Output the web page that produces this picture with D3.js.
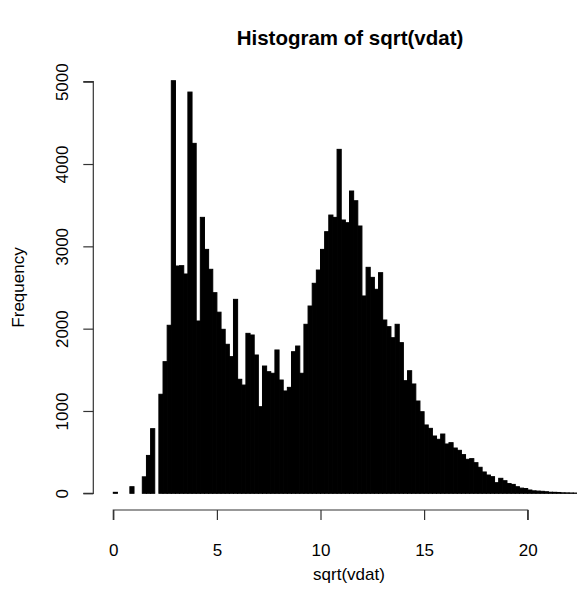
<!DOCTYPE html>
<html>
<head>
<meta charset="utf-8">
<script src="https://cdn.jsdelivr.net/npm/d3@7"></script>
<style>
  html, body { margin: 0; padding: 0; background: #fff; }
  svg { display: block; font-family: "Liberation Sans", Arial, Helvetica, sans-serif; }
</style>
</head>
<body>
<svg id="chart" width="577" height="596"></svg>
<script>
// ---- data ----
const title = "Histogram of sqrt(vdat)";
const xLabel = "sqrt(vdat)";
const yLabel = "Frequency";
const binWidth = 0.2;
const counts = [
  12, 0, 0, 0, 80, 0, 0, 200, 460, 785,
  0, 1203, 1599, 2041, 5012, 2761, 2765, 2664, 4874, 4251,
  2093, 3352, 2963, 2721, 2437, 2200, 1992, 1810, 1660, 2356,
  1385, 1315, 1943, 1923, 1680, 1052, 1546, 1477, 1458, 1741,
  1376, 1243, 1287, 1720, 1789, 1458, 2053, 2275, 2551, 2712,
  2963, 3178, 3380, 3352, 4178, 3320, 3287, 3672, 3554, 3247,
  2397, 2745, 2623, 2478, 2680, 2105, 2024, 1890, 2053, 1830,
  1368, 1489, 1328, 1121, 991, 830, 789, 696, 656, 720,
  599, 615, 550, 522, 470, 413, 421, 372, 316, 259,
  222, 202, 129, 182, 153, 118, 108, 80, 63, 58,
  40, 30, 27, 24, 19, 13, 12, 10, 6, 5,
  4, 3, 2, 2, 1, 1, 1, 1, 1, 1
];
const xTicks = [0, 5, 10, 15, 20];
const yTicks = [0, 1000, 2000, 3000, 4000, 5000];

// ---- layout ----
const svg = d3.select("#chart");
const x = d3.scaleLinear().domain([0, 20]).range([113.3, 527.7]);
const y = d3.scaleLinear().domain([0, 5000]).range([493.3, 81.7]);
const axisY = 510;   // x axis line
const axisX = 93.3;  // y axis line
const tickLen = 10;
const fs = 17;

svg.append("rect").attr("width", 577).attr("height", 596).attr("fill", "#fff");

// bars
const bins = counts.map((c, i) => ({ x0: i * binWidth, x1: (i + 1) * binWidth, c }));
svg.append("g").selectAll("rect").data(bins).join("rect")
  .attr("x", d => x(d.x0))
  .attr("width", d => x(d.x1) - x(d.x0))
  .attr("y", d => y(d.c))
  .attr("height", d => y(0) - y(d.c))
  .attr("fill", "#000")
  .attr("stroke", "#000")
  .attr("stroke-width", 1);

// x axis
const xAxis = d3.axisBottom(x).tickValues(xTicks).tickSize(tickLen).tickPadding(24).tickFormat(d3.format("d"));
const gx = svg.append("g").attr("transform", `translate(0,${axisY})`).call(xAxis);
gx.select(".domain").attr("d", `M${x(0)},${tickLen}V0H${x(20)}V${tickLen}`).attr("stroke", "#333").attr("stroke-width", 1.2);
gx.selectAll(".tick line").attr("stroke", "#333").attr("stroke-width", 1.2);
gx.selectAll(".tick text").attr("font-size", fs).attr("fill", "#000").attr("font-family", "Liberation Sans, Arial, sans-serif");

// y axis
const yAxis = d3.axisLeft(y).tickValues(yTicks).tickSize(tickLen).tickFormat(d3.format("d"));
const gy = svg.append("g").attr("transform", `translate(${axisX},0)`).call(yAxis);
gy.select(".domain").attr("d", `M${-tickLen},${y(0)}H0V${y(5000)}H${-tickLen}`).attr("stroke", "#333").attr("stroke-width", 1.2);
gy.selectAll(".tick line").attr("stroke", "#333").attr("stroke-width", 1.2);
gy.selectAll(".tick text")
  .attr("font-size", fs).attr("fill", "#000").attr("font-family", "Liberation Sans, Arial, sans-serif")
  .attr("x", null).attr("dy", null)
  .attr("text-anchor", "middle")
  .attr("transform", "translate(-25,0) rotate(-90)");

// titles
svg.append("text")
  .attr("x", 350).attr("y", 45)
  .attr("text-anchor", "middle")
  .attr("font-size", 20.5).attr("font-weight", "bold")
  .text(title);

svg.append("text")
  .attr("x", 349).attr("y", 580)
  .attr("text-anchor", "middle")
  .attr("font-size", fs)
  .text(xLabel);

svg.append("text")
  .attr("transform", `translate(24,${(y(0) + y(5000)) / 2 + 0}) rotate(-90)`)
  .attr("x", 0).attr("y", 0)
  .attr("text-anchor", "middle")
  .attr("font-size", fs)
  .text(yLabel);
</script>
</body>
</html>
